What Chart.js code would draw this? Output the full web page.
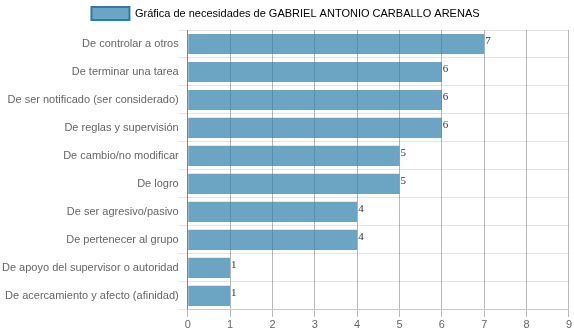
<!DOCTYPE html>
<html>
<head>
<meta charset="utf-8">
<script src="https://cdn.jsdelivr.net/npm/chart.js@4/dist/chart.umd.min.js"></script>
<style>
body { margin: 0; background: #fff; }
</style>
</head>
<body>
<canvas id="necesidades" width="574" height="334"></canvas>
<script>
var necesidades = [
    'De controlar a otros',
    'De terminar una tarea',
    'De ser notificado (ser considerado)',
    'De reglas y supervisión',
    'De cambio/no modificar',
    'De logro',
    'De ser agresivo/pasivo',
    'De pertenecer al grupo',
    'De apoyo del supervisor o autoridad',
    'De acercamiento y afecto (afinidad)'
];
var puntajes = [7, 6, 6, 6, 5, 5, 4, 4, 1, 1];
var ticksEscala = [0, 1, 2, 3, 4, 5, 6, 7, 8, 9];
var nombre = 'Gráfica de necesidades de GABRIEL ANTONIO CARBALLO ARENAS';

// escribe el puntaje al final de cada barra
var valoresPlugin = {
    id: 'valores',
    afterDatasetsDraw: function(chart) {
        var ctx = chart.ctx;
        var meta = chart.getDatasetMeta(0);
        ctx.save();
        ctx.font = '11px "Liberation Serif", "DejaVu Serif", serif';
        ctx.fillStyle = '#333';
        ctx.textAlign = 'left';
        ctx.textBaseline = 'middle';
        meta.data.forEach(function(bar, i) {
            ctx.fillText(puntajes[i], bar.x + 1, bar.y - 3);
        });
        ctx.restore();
    }
};

Chart.defaults.font.family = '"Liberation Sans", Arial, sans-serif';
Chart.defaults.font.size = 11;
Chart.defaults.color = '#666';

var chart = new Chart(document.getElementById('necesidades'), {
    type: 'bar',
    data: {
        labels: necesidades,
        datasets: [{
            label: nombre,
            data: puntajes,
            backgroundColor: 'rgba(46, 125, 170, 0.7)',
            borderColor: '#2e7bab',
            borderWidth: 0,
            categoryPercentage: 0.8,
            barPercentage: 0.9
        }]
    },
    options: {
        indexAxis: 'y',
        responsive: false,
        animation: false,
        layout: { padding: { left: 2, right: 5, top: 0, bottom: 0 } },
        plugins: {
            legend: {
                labels: {
                    boxWidth: 38,
                    boxHeight: 13,
                    padding: 7,
                    generateLabels: function(chart) {
                        return [{
                            text: nombre,
                            fillStyle: 'rgba(46, 125, 170, 0.7)',
                            strokeStyle: '#2e7bab',
                            lineWidth: 2,
                            datasetIndex: 0
                        }];
                    }
                }
            },
            tooltip: { enabled: false }
        },
        scales: {
            x: {
                min: 0,
                max: 9,
                afterBuildTicks: function(scale) {
                    scale.ticks = ticksEscala.map(function(v) { return { value: v }; });
                },
                grid: {
                    color: 'rgba(0, 0, 0, 0.28)',
                    tickLength: 7
                },
                border: { color: 'rgba(0, 0, 0, 0.12)' },
                ticks: { padding: 2 }
            },
            y: {
                grid: {
                    color: 'rgba(0, 0, 0, 0.1)',
                    offset: true,
                    tickLength: 9
                },
                border: { color: 'rgba(0, 0, 0, 0.28)' },
                ticks: { padding: 0 }
            }
        }
    },
    plugins: [valoresPlugin]
});
</script>
</body>
</html>
